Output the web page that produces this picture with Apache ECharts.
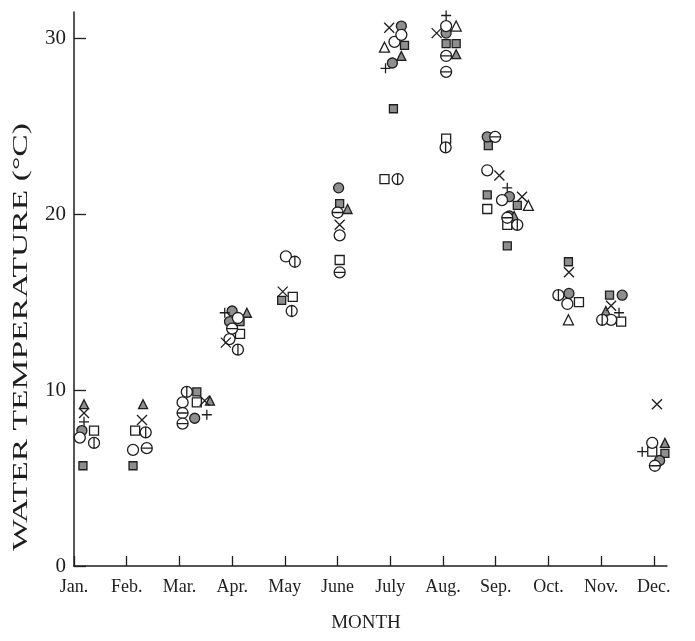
<!DOCTYPE html>
<html>
<head>
<meta charset="utf-8">
<script src="https://cdn.jsdelivr.net/npm/echarts@6/dist/echarts.min.js"></script>
<style>
  html, body { margin: 0; padding: 0; background: #fff; }
  #main { width: 695px; height: 641px; }
</style>
</head>
<body>
<div id="main"></div>
<script>
// month labels (x = 1 is Jan.)
var months = ["Jan.", "Feb.", "Mar.", "Apr.", "May", "June", "July", "Aug.", "Sep.", "Oct.", "Nov.", "Dec."];
var monthTicks = [1, 2, 3, 4, 5, 6, 7, 8, 9, 10, 11, 12];
var tempTicks = [0, 10, 20, 30];

// [month position, water temperature] per symbol
var openCircle = [[1.11, 7.3], [2.12, 6.6], [3.06, 9.3], [4.11, 14.1], [3.95, 12.9], [5.02, 17.6], [6.04, 18.8],
  [7.08, 29.8], [7.21, 30.2], [8.06, 30.7], [8.84, 22.5], [9.12, 20.8], [10.36, 14.9], [11.19, 14.0], [11.97, 7.0]];
var crossMark = [[1.19, 8.7], [2.29, 8.3], [3.48, 9.4], [3.88, 12.7], [4.96, 15.6], [6.04, 19.4], [6.98, 30.6],
  [7.88, 30.3], [9.07, 22.2], [9.5, 21.0], [10.39, 16.7], [11.19, 14.8], [12.06, 9.2]];
var plusMark = [[1.19, 8.2], [3.52, 8.6], [3.86, 14.4], [6.91, 28.3], [8.06, 31.3], [9.22, 21.5], [11.34, 14.4], [11.78, 6.5]];
var shadedTriangle = [[1.19, 9.2], [2.31, 9.2], [3.58, 9.4], [4.28, 14.4], [6.19, 20.3], [7.21, 29.0], [8.25, 29.1],
  [9.35, 19.9], [11.09, 14.5], [12.21, 7.0]];
var openTriangle = [[6.89, 29.5], [8.25, 30.7], [9.62, 20.5], [10.38, 14.0]];
var openSquare = [[1.38, 7.7], [2.16, 7.7], [3.33, 9.3], [4.15, 13.2], [5.15, 15.3], [6.04, 17.4], [6.89, 22.0],
  [8.06, 24.3], [8.84, 20.3], [9.22, 19.4], [10.58, 15.0], [11.38, 13.9], [11.97, 6.5]];
var shadedSquare = [[1.17, 5.7], [2.12, 5.7], [3.33, 9.9], [4.15, 13.9], [4.94, 15.1], [6.04, 20.6], [7.27, 29.6],
  [7.06, 26.0], [8.06, 29.7], [8.25, 29.7], [8.86, 23.9], [8.84, 21.1], [9.41, 20.5], [9.22, 18.2], [10.38, 17.3],
  [11.16, 15.4], [12.21, 6.4]];
var shadedCircle = [[1.15, 7.7], [3.29, 8.4], [4.0, 14.5], [3.95, 13.9], [6.02, 21.5], [7.21, 30.7], [7.04, 28.6],
  [8.06, 30.3], [8.84, 24.4], [9.26, 21.0], [9.26, 19.9], [10.39, 15.5], [11.4, 15.4], [12.11, 6.0]];
var barCircle = [[1.38, 7.0], [2.36, 7.6], [3.14, 9.9], [4.11, 12.3], [5.13, 14.5], [5.19, 17.3], [7.14, 22.0],
  [8.05, 23.8], [9.41, 19.4], [10.19, 15.4], [11.02, 14.0]];
var lineCircle = [[2.38, 6.7], [3.06, 8.7], [3.06, 8.1], [4.0, 13.5], [6.0, 20.1], [6.04, 16.7], [8.06, 29.0],
  [8.06, 28.1], [8.99, 24.4], [9.22, 19.8], [12.02, 5.7]];

var ink = "#1e1e1e";
var shade = "#8e8e8e";
var serif = "Liberation Serif";

function scatter(name, data, symbol, size, fill) {
  return {
    name: name,
    type: "scatter",
    data: data,
    symbol: symbol,
    symbolSize: size,
    itemStyle: { color: fill, borderColor: ink, borderWidth: 1.3, opacity: 1 },
    emphasis: { disabled: true }
  };
}

var chart = echarts.init(document.getElementById("main"));
var option = {
  animation: false,
  backgroundColor: "#fff",
  grid: { left: 74, right: 28, top: 12, bottom: 75 },
  xAxis: {
    type: "value",
    min: 1,
    max: 12.25,
    splitLine: { show: false },
    axisLine: { lineStyle: { color: ink, width: 1.5 } },
    axisTick: { inside: true, length: 10, customValues: monthTicks, lineStyle: { color: ink, width: 1.3 } },
    axisLabel: {
      customValues: monthTicks,
      margin: 12,
      color: ink,
      fontFamily: serif,
      fontSize: 18,
      formatter: function (v) { return months[Math.round(v) - 1]; }
    }
  },
  yAxis: {
    type: "value",
    min: 0,
    max: 31.5,
    splitLine: { show: false },
    axisLine: { show: true, lineStyle: { color: ink, width: 1.5 } },
    axisTick: { show: true, inside: true, length: 12, customValues: tempTicks, lineStyle: { color: ink, width: 1.3 } },
    axisLabel: { customValues: tempTicks, margin: 8, color: ink, fontFamily: serif, fontSize: 21 }
  },
  graphic: [
    {
      type: "text",
      x: 22,
      y: 337,
      rotation: Math.PI / 2,
      scaleX: 1.68,
      style: {
        text: "WATER TEMPERATURE (°C)",
        fontFamily: serif,
        fontSize: 20,
        fill: ink,
        align: "center",
        verticalAlign: "middle"
      }
    },
    {
      type: "text",
      x: 366,
      y: 623,
      style: {
        text: "MONTH",
        fontFamily: serif,
        fontSize: 19,
        fill: ink,
        align: "center",
        verticalAlign: "middle"
      }
    }
  ],
  series: [
    scatter("shaded square", shadedSquare, "rect", 8, shade),
    scatter("shaded circle", shadedCircle, "circle", 10, shade),
    scatter("shaded triangle", shadedTriangle, "triangle", 9, shade),
    scatter("open square", openSquare, "rect", 9, "#fff"),
    scatter("open circle", openCircle, "circle", 11, "#fff"),
    scatter("open triangle", openTriangle, "triangle", 10, "#fff"),
    scatter("bar circle", barCircle, "path://M0,-10A10,10,0,1,1,0,10A10,10,0,1,1,0,-10ZM0,-10L0,10", 11, "#fff"),
    scatter("line circle", lineCircle, "path://M0,-10A10,10,0,1,1,0,10A10,10,0,1,1,0,-10ZM-10,0L10,0", 11, "#fff"),
    scatter("cross", crossMark, "path://M0,0L10,10M10,0L0,10", 10, "none"),
    scatter("plus", plusMark, "path://M5,0L5,10M0,5L10,5", 10, "none")
  ]
};
chart.setOption(option);
</script>
</body>
</html>
